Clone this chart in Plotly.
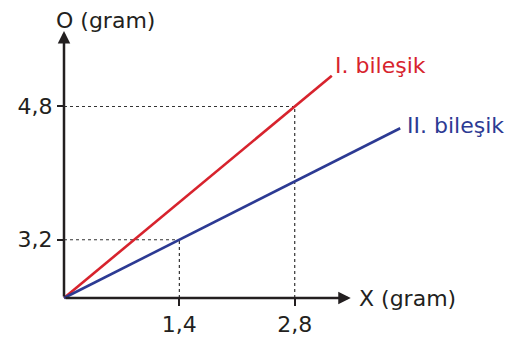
import numpy as np
import plotly.graph_objects as go

# ---------------- data ----------------
x_marks = [1.4, 2.8]
x_labels = ["1,4", "2,8"]
y_marks = [3.2, 4.8]
y_labels = ["3,2", "4,8"]
compounds = ["I. bileşik", "II. bileşik"]
point_x = [2.8, 1.4]        # X (gram) at the marked point of each line
point_y = [4.8, 3.2]        # O (gram) at the marked point of each line
line_end_x = [3.25, 4.08]   # how far each line is drawn along X
x_title = "X (gram)"
y_title = "O (gram)"

# ---------------- style ----------------
PAGE_PAD = 8                # default body margin of the page
W, H = 529 - PAGE_PAD, 337 - PAGE_PAD
OX, OY = 64 - PAGE_PAD, 298 - PAGE_PAD   # pixel position of the origin
SX, SY = 82.4, 39.9         # pixels per unit
X_TIP, Y_TIP = 3.48, 6.69   # axis arrow extents
colors = ["#d7232d", "#2c3a93"]
ink = "#231f20"
FONT = "DejaVu Sans"
FS = 22


def y_draw(v):
    # the O axis in the original sketch is not drawn to scale
    return np.interp(v, [0, 3.2, 4.8], [0, 1.46, 4.8])


fig = go.Figure()

shapes = []
annotations = []
for i, name in enumerate(compounds):
    px, py = point_x[i], float(y_draw(point_y[i]))
    slope = py / px
    ex = line_end_x[i]
    ey = slope * ex
    fig.add_trace(go.Scatter(x=[0, px, ex], y=[0, py, ey], mode="lines",
                             line=dict(color=colors[i], width=2.6),
                             hoverinfo="skip", showlegend=False))
    # dotted guides
    shapes.append(dict(type="line", x0=0, y0=py, x1=px, y1=py, xref="x", yref="y",
                       line=dict(color="#333", width=1.2, dash="dot"), layer="below"))
    shapes.append(dict(type="line", x0=px, y0=0, x1=px, y1=py, xref="x", yref="y",
                       line=dict(color="#333", width=1.2, dash="dot"), layer="below"))
    annotations.append(dict(x=ex, y=ey, xref="x", yref="y", text=name, showarrow=False,
                            xanchor="left", yanchor="middle",
                            xshift=1 if i == 0 else 5, yshift=10 if i == 0 else 3,
                            font=dict(family=FONT, size=FS, color=colors[i])))

# axis arrows
annotations.append(dict(x=X_TIP, y=0, ax=0, ay=0, xref="x", yref="y", axref="x", ayref="y",
                        text="", showarrow=True, arrowhead=2, arrowsize=1,
                        arrowwidth=2.5, arrowcolor=ink))
annotations.append(dict(x=0, y=Y_TIP, ax=0, ay=0, xref="x", yref="y", axref="x", ayref="y",
                        text="", showarrow=True, arrowhead=2, arrowsize=1,
                        arrowwidth=2.5, arrowcolor=ink))
# axis titles
annotations.append(dict(x=X_TIP, y=0, xref="x", yref="y", text=x_title, showarrow=False,
                        xanchor="left", yanchor="middle", xshift=6, yshift=0,
                        font=dict(family=FONT, size=FS, color=ink)))
annotations.append(dict(x=0, y=Y_TIP, xref="x", yref="y", text=y_title, showarrow=False,
                        xanchor="left", yanchor="bottom", xshift=-10, yshift=-4,
                        font=dict(family=FONT, size=FS, color=ink)))

x_range = [-OX / SX, (W - OX) / SX]
y_range = [-(H - OY) / SY, OY / SY]

fig.update_layout(
    template="none",
    width=W, height=H,
    margin=dict(l=0, r=0, t=0, b=0),
    paper_bgcolor="white", plot_bgcolor="white",
    shapes=shapes, annotations=annotations,
    xaxis=dict(range=x_range, anchor="free", position=(H - OY) / H,
               tickvals=x_marks, ticktext=x_labels, ticks="outside", ticklen=7,
               tickwidth=2, tickcolor=ink, showline=False, showgrid=False,
               zeroline=False, automargin=False, fixedrange=True,
               tickfont=dict(family=FONT, size=FS, color=ink)),
    yaxis=dict(range=y_range, anchor="free", position=OX / W,
               tickvals=[float(y_draw(v)) for v in y_marks], ticktext=y_labels,
               ticks="outside", ticklen=7, tickwidth=2, tickcolor=ink,
               showline=False, showgrid=False, zeroline=False, automargin=False,
               fixedrange=True, tickfont=dict(family=FONT, size=FS, color=ink)),
)

fig.write_html("out.html")
